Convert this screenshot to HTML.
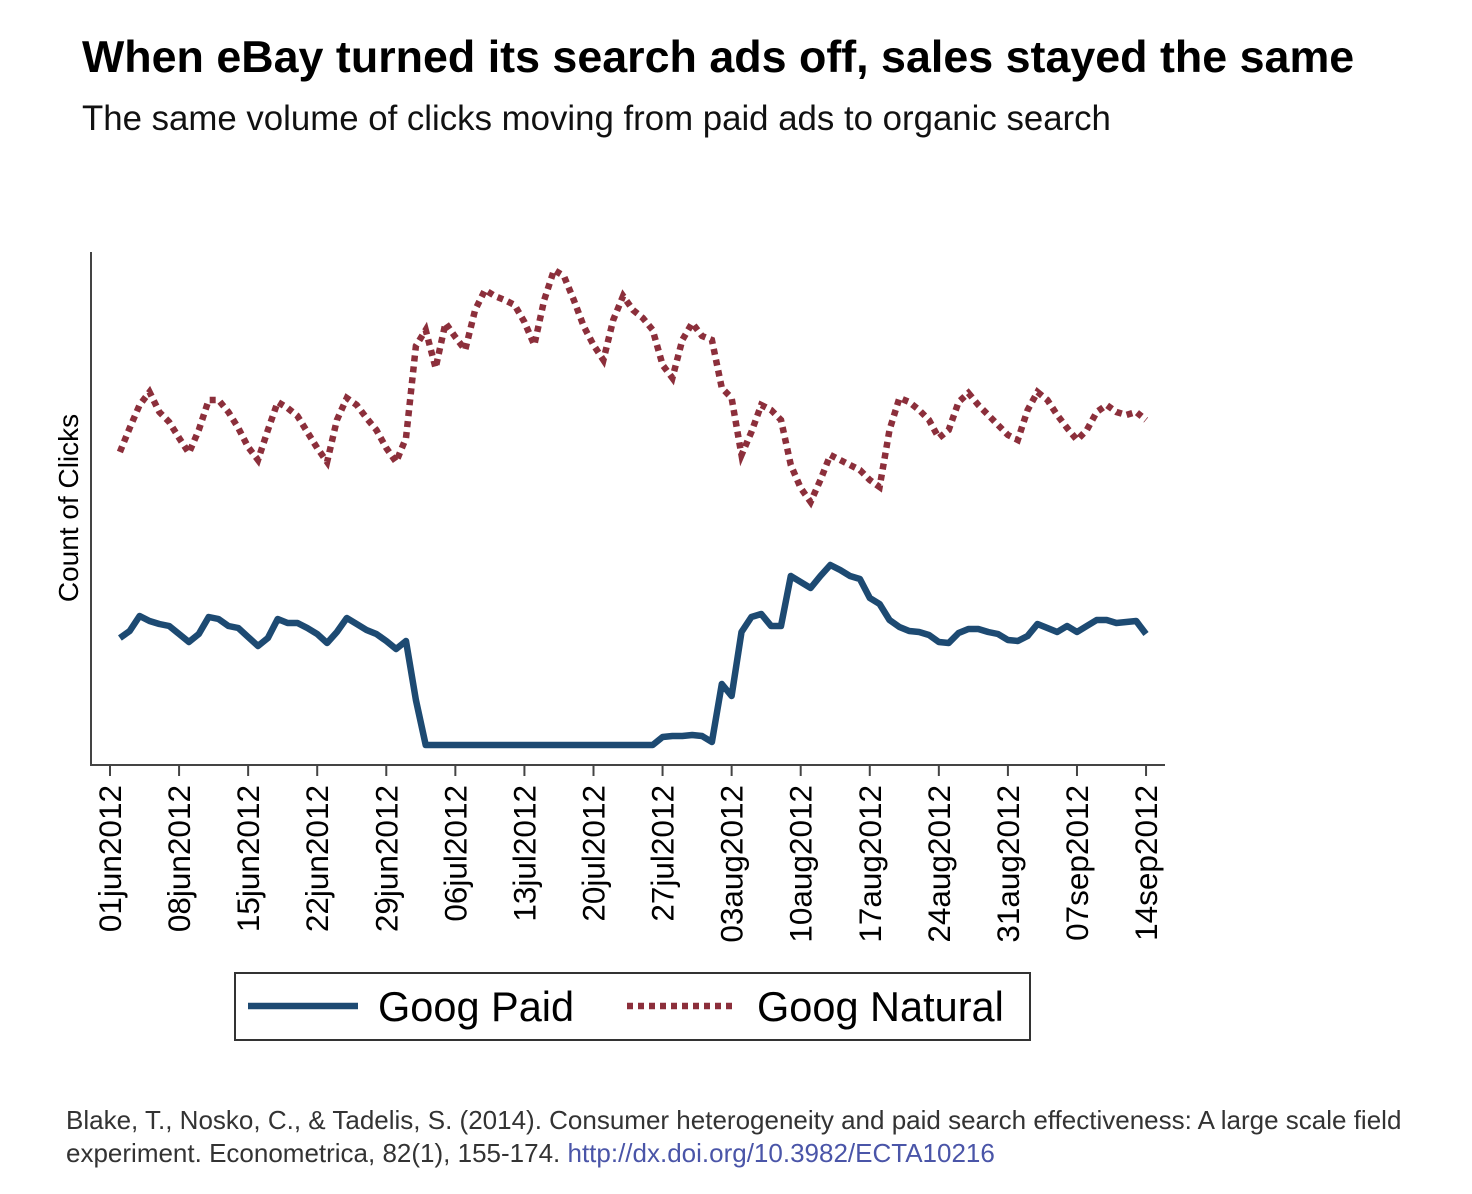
<!DOCTYPE html>
<html><head><meta charset="utf-8">
<style>
body{margin:0;background:#fff;width:1472px;height:1194px;overflow:hidden;font-family:"Liberation Sans",Arial,sans-serif;}
#title{position:absolute;left:82px;top:32px;font-size:44.8px;font-weight:bold;color:#000;white-space:nowrap;}
#subtitle{position:absolute;left:82px;top:99px;font-size:34.8px;color:#111;white-space:nowrap;}
#source{position:absolute;left:66px;top:1104px;font-size:26px;line-height:33px;color:#333;width:1360px;}
#source a{color:#4a55a8;text-decoration:none;}
svg{position:absolute;left:0;top:0;}
</style></head><body>
<div id="title">When eBay turned its search ads off, sales stayed the same</div>
<div id="subtitle">The same volume of clicks moving from paid ads to organic search</div>
<svg id="chart" width="1472" height="1194"></svg>
<div id="source">Blake, T., Nosko, C., &amp; Tadelis, S. (2014). Consumer heterogeneity and paid search effectiveness: A large scale field experiment. Econometrica, 82(1), 155-174. <a>http://dx.doi.org/10.3982/ECTA10216</a></div>
<script>
const tickLabels=["01jun2012","08jun2012","15jun2012","22jun2012","29jun2012","06jul2012","13jul2012","20jul2012","27jul2012","03aug2012","10aug2012","17aug2012","24aug2012","31aug2012","07sep2012","14sep2012"];
const startDay=1;
const paid=[127,134,149,144,141,139,131,123,131,148,146,139,137,128,119,127,146,142,142,137,131,122,133,147,141,135,131,124,116,124,65,20,20,20,20,20,20,20,20,20,20,20,20,20,20,20,20,20,20,20,20,20,20,20,20,28,29,29,30,29,23,81,69,133,148,151,139,139,189,183,177,189,200,195,189,186,167,161,145,138,134,133,130,123,122,132,136,136,133,131,125,124,129,141,137,133,139,133,139,145,145,142,143,144,131];
const natural=[313,337,360,373,353,343,327,312,335,365,365,353,337,318,305,335,363,357,349,333,317,303,345,367,360,347,335,317,303,327,419,435,397,442,428,415,455,475,469,465,460,443,420,465,495,489,465,439,420,405,445,469,455,447,435,400,387,425,442,429,425,377,367,310,333,360,355,345,300,277,263,285,310,305,300,295,285,278,335,367,363,355,345,327,335,363,372,360,350,340,330,325,355,373,365,350,337,325,335,353,360,353,350,353,345];

const NS="http://www.w3.org/2000/svg";
const svg=document.getElementById('chart');
const x0=110,pxPerDay=69.07/7,yBase=765,yMaxV=513;
function xScale(d){return x0+d*pxPerDay;}
function yScale(v){return yBase-(v/yMaxV)*513;}
function mk(tag,attrs,parent){const e=document.createElementNS(NS,tag);for(const k in attrs)e.setAttribute(k,attrs[k]);(parent||svg).appendChild(e);return e;}

const yAxis=mk('line',{x1:91,y1:252,x2:91,y2:766,stroke:'#444','stroke-width':2});


const xAxis=mk('line',{x1:90,y1:765,x2:1165,y2:765,stroke:'#444','stroke-width':2});



tickLabels.forEach((t,i)=>{
  const x=xScale(i*7);
  const tk=mk('line',{x1:x,y1:765,x2:x,y2:776,stroke:'#444','stroke-width':2});
  
  
  const tx=mk('text',{x:0,y:0,transform:`translate(${x+11},785) rotate(-90)`,'text-anchor':'end','font-size':31.5,fill:'#000','font-family':'Liberation Sans, Arial, sans-serif'});
  tx.textContent=t;
  
  
});

const yt=mk('text',{x:0,y:0,transform:'translate(78,508) rotate(-90)','text-anchor':'middle','font-size':28,fill:'#000','font-family':'Liberation Sans, Arial, sans-serif'});
yt.textContent='Count of Clicks';



function path(arr){return arr.map((v,i)=>(i?'L':'M')+xScale(startDay+i).toFixed(1)+','+yScale(v).toFixed(1)).join(' ');}
const nl=mk('path',{d:path(natural),fill:'none',stroke:'#8c2f3b','stroke-width':6.5,'stroke-dasharray':'6 5'});


const pl=mk('path',{d:path(paid),fill:'none',stroke:'#1d4a72','stroke-width':6.5,'stroke-linejoin':'round'});



const lg=mk('g',{});


mk('rect',{x:235,y:973,width:795,height:67,fill:'#fff',stroke:'#333','stroke-width':2},lg);
const l1=mk('line',{x1:248,y1:1006,x2:358,y2:1006,stroke:'#1d4a72','stroke-width':6.5},lg);


const t1=mk('text',{x:378,y:1021,'font-size':41.5,fill:'#000','font-family':'Liberation Sans, Arial, sans-serif'},lg);
t1.textContent='Goog Paid';


const l2=mk('line',{x1:627,y1:1006,x2:737,y2:1006,stroke:'#8c2f3b','stroke-width':6.5,'stroke-dasharray':'6 5'},lg);


const t2=mk('text',{x:757,y:1021,'font-size':41.5,fill:'#000','font-family':'Liberation Sans, Arial, sans-serif'},lg);
t2.textContent='Goog Natural';


</script>
</body></html>
